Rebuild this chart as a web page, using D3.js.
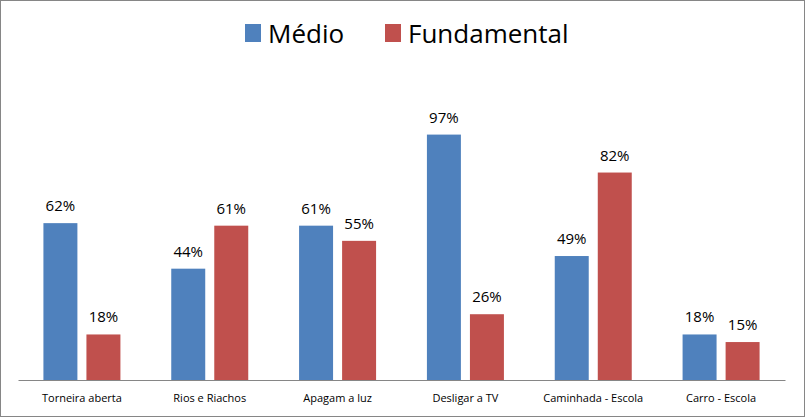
<!DOCTYPE html>
<meta charset="utf-8">
<head>
<style>
body { margin: 0; background: #fff; }
svg text { font-family: "Open Sans", "Noto Sans", sans-serif; fill: #000; }
</style>
</head>
<script src="https://d3js.org/d3.v7.min.js"></script>
<div id="chart"></div>
<script>

// data
var categories = ["Torneira aberta", "Rios e Riachos", "Apagam a luz", "Desligar a TV", "Caminhada - Escola", "Carro - Escola"];
var seriesNames = ["Médio", "Fundamental"];
var medio = [62, 44, 61, 97, 49, 18];
var fundamental = [18, 61, 55, 26, 82, 15];
var colors = ["#4F81BD", "#C0504D"];

var W = 805, H = 417;
var margin = {top: 127, right: 20, bottom: 37, left: 18};

var svg = d3.select("#chart").append("svg")
    .attr("width", W)
    .attr("height", H);

// outer border
svg.append("rect")
    .attr("x", 0.5).attr("y", 0.5)
    .attr("width", W - 1).attr("height", H - 1)
    .attr("fill", "#fff")
    .attr("stroke", "#868686");

var x = d3.scaleBand()
    .domain(categories)
    .range([margin.left, W - margin.right]);

var x1 = d3.scaleBand()
    .domain(seriesNames)
    .range([0, 77])
    .paddingInner(0.21);

var y = d3.scaleLinear()
    .domain([0, 100])
    .range([H - margin.bottom, margin.top]);

var rows = categories.map(function(c, i) {
  return {cat: c, vals: [medio[i], fundamental[i]]};
});

var groups = svg.selectAll("g.grp")
  .data(rows)
  .enter().append("g")
    .attr("class", "grp")
    .attr("transform", function(d) {
      return "translate(" + (x(d.cat) + x.bandwidth() / 2 - 38.5) + ",0)";
    });

groups.selectAll("rect")
  .data(function(d) { return d.vals.map(function(v, j) { return {name: seriesNames[j], v: v, j: j}; }); })
  .enter().append("rect")
    .attr("x", function(d) { return x1(d.name); })
    .attr("y", function(d) { return y(d.v); })
    .attr("width", x1.bandwidth())
    .attr("height", function(d) { return y(0) - y(d.v); })
    .attr("fill", function(d) { return colors[d.j]; });

groups.selectAll("text")
  .data(function(d) { return d.vals.map(function(v, j) { return {name: seriesNames[j], v: v}; }); })
  .enter().append("text")
    .attr("x", function(d) { return x1(d.name) + x1.bandwidth() / 2; })
    .attr("y", function(d) { return y(d.v) - 12; })
    .attr("text-anchor", "middle")
    .attr("font-size", "15px")
    .text(function(d) { return d.v + "%"; });

// x axis
var xAxis = svg.append("g")
    .attr("transform", "translate(0," + y(0) + ")")
    .call(d3.axisBottom(x).tickSize(0).tickPadding(14));
xAxis.select(".domain").attr("stroke", "#868686");
xAxis.selectAll("text")
    .attr("font-size", "11px")
    .attr("font-family", "Open Sans, Noto Sans, sans-serif")
    .attr("fill", "#000");

// legend
var legend = svg.append("g");
var legX = [245, 385];
seriesNames.forEach(function(n, i) {
  legend.append("rect")
    .attr("x", legX[i]).attr("y", 24)
    .attr("width", 16).attr("height", 18)
    .attr("fill", colors[i]);
  legend.append("text")
    .attr("x", legX[i] + 23).attr("y", 43)
    .attr("font-size", "26px")
    .text(n);
});

</script>
